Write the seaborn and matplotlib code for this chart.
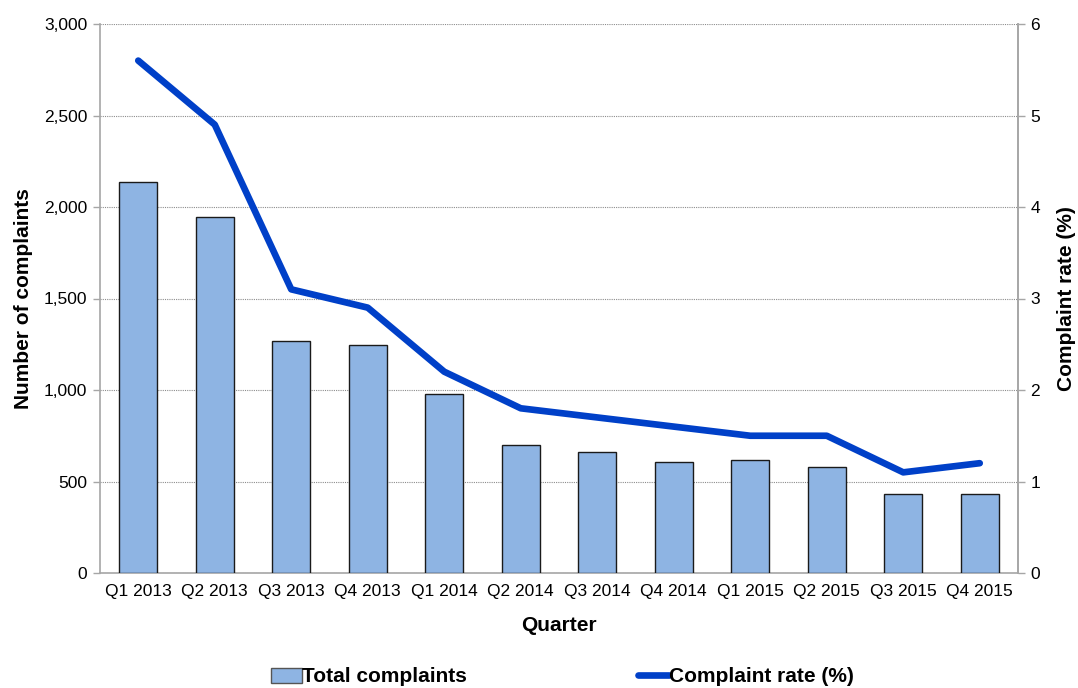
import matplotlib
matplotlib.use("Agg")
import matplotlib.pyplot as plt
import seaborn as sns
import pandas as pd
from matplotlib.patches import Patch
from matplotlib.lines import Line2D
from matplotlib.ticker import FuncFormatter, MultipleLocator

quarters = ["Q1 2013", "Q2 2013", "Q3 2013", "Q4 2013",
            "Q1 2014", "Q2 2014", "Q3 2014", "Q4 2014",
            "Q1 2015", "Q2 2015", "Q3 2015", "Q4 2015"]
total_complaints = [2135, 1945, 1268, 1247, 980, 698, 660, 604, 617, 581, 429, 430]
complaint_rate = [5.6, 4.9, 3.1, 2.9, 2.2, 1.8, 1.7, 1.6, 1.5, 1.5, 1.1, 1.2]

df = pd.DataFrame({"Quarter": quarters,
                   "Total complaints": total_complaints,
                   "Complaint rate (%)": complaint_rate})

sns.set_theme(style="white")
plt.rcParams["font.family"] = ["Liberation Sans", "DejaVu Sans"]
plt.rcParams["text.color"] = "black"
plt.rcParams["axes.labelcolor"] = "black"

bar_color = "#8EB4E3"
line_color = "#0040C8"
axis_gray = "#A6A6A6"
label_font = {"size": 15, "weight": "bold", "color": "black"}

fig = plt.figure(figsize=(10.78, 6.88), dpi=100)
ax = fig.add_axes([100 / 1078, 1 - 573 / 688, 918 / 1078, 549 / 688])

sns.barplot(data=df, x="Quarter", y="Total complaints", ax=ax,
            color=bar_color, width=0.5, edgecolor="#1a1a1a", linewidth=1.0,
            saturation=1, zorder=3)

ax.set_xlim(-0.5, len(quarters) - 0.5)
ax.set_ylim(0, 3000)
ax.yaxis.set_major_locator(MultipleLocator(500))
ax.yaxis.set_major_formatter(FuncFormatter(lambda v, p: f"{int(v):,}"))
ax.grid(axis="y", color="#8c8c8c", linestyle=(0, (1, 1)), linewidth=0.8, zorder=0)
ax.set_axisbelow(True)

# category ticks sit on the boundaries between bars
ax.set_xticks(range(len(quarters)))
ax.set_xticklabels(quarters)
ax.tick_params(axis="x", which="major", length=0, pad=8, labelsize=12.5, labelcolor="black")
ax.set_xticks([i - 0.5 for i in range(len(quarters) + 1)], minor=True)
ax.tick_params(axis="x", which="minor", length=5, color=axis_gray, width=1, direction="out")
ax.tick_params(axis="y", length=5, color=axis_gray, width=1, direction="out",
               labelsize=12.5, labelcolor="black", pad=4)

ax.spines["top"].set_visible(False)
for side in ["left", "bottom", "right"]:
    ax.spines[side].set_color(axis_gray)
    ax.spines[side].set_linewidth(1.2)

ax.set_xlabel("Quarter", fontdict=label_font, labelpad=12)
ax.set_ylabel("Number of complaints", fontdict=label_font, labelpad=8)

ax2 = ax.twinx()
sns.lineplot(data=df, x="Quarter", y="Complaint rate (%)", ax=ax2,
             color=line_color, linewidth=4.8, sort=False,
             solid_capstyle="round", solid_joinstyle="round", zorder=4)
ax2.set_ylim(0, 6)
ax2.yaxis.set_major_locator(MultipleLocator(1))
ax2.tick_params(axis="y", length=5, color=axis_gray, width=1, direction="out",
                labelsize=12.5, labelcolor="black", pad=4)
ax2.set_ylabel("Complaint rate (%)", fontdict=label_font, labelpad=12)
ax2.grid(False)
for side in ["top", "left", "bottom"]:
    ax2.spines[side].set_visible(False)
ax2.spines["right"].set_color(axis_gray)
ax2.spines["right"].set_linewidth(1.2)

handles = [
    Patch(facecolor=bar_color, edgecolor="#555555", linewidth=1.0),
    Line2D([0], [0], color=line_color, linewidth=4.8, solid_capstyle="round"),
]
labels = ["Total complaints", "Complaint rate (%)"]
fig.legend(handles, labels, loc="center", bbox_to_anchor=(0.522, 1 - 677 / 688),
           ncol=2, frameon=False, handlelength=1.5, handletextpad=0.0,
           columnspacing=8.2, prop={"size": 15, "weight": "bold"})

fig.savefig("out.png", dpi=100)
